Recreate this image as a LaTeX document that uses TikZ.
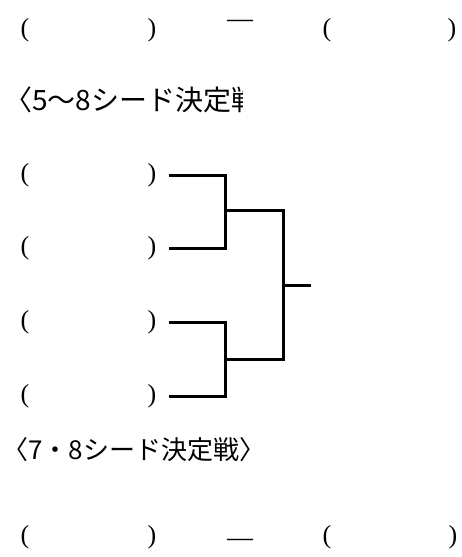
\documentclass[tikz,border=0pt]{standalone}
\usepackage{fontspec}
\newfontfamily\jp{Noto Sans CJK JP}
\newfontfamily\jpwide[FakeStretch=1.8]{Noto Sans CJK JP}
\newfontfamily\parenfont{Liberation Serif}
\newcommand\parensize{\fontsize{26}{30}\selectfont}
\begin{document}
\begin{tikzpicture}[x=1pt,y=-1pt,
  paren/.style={inner sep=0pt,font=\parenfont\parensize},
  dashtxt/.style={inner sep=0pt,font=\jpwide\fontsize{20}{24}\selectfont},
  heading/.style={inner sep=0pt,anchor=west,font=\jp\fontsize{26}{28}\selectfont},
  br/.style={line width=3pt,line join=miter,line cap=butt}]
\useasboundingbox (0,0) rectangle (461,557);
% top row
\node[paren] (t1l) at (25,30) {(};
\node[paren] (t1r) at (152,30) {)};
\node[dashtxt] (t1d) at (240,24) {－};
\node[paren] (t2l) at (327,30) {(};
\node[paren] (t2r) at (452,30) {)};
% heading 1 (clipped)
\begin{scope}
\clip (0,80) rectangle (242,125);
\node[heading,font=\jp\fontsize{28}{30}\selectfont] (h1) at (4,100) {〈5～8シード決定戦};
\end{scope}
% bracket entries
\foreach \i/\y in {1/175,2/248,3/322,4/396}{
  \node[paren] (e\i l) at (25,\y) {(};
  \node[paren] (e\i r) at (152,\y) {)};
}
\coordinate (j1) at (225,210);
\coordinate (j2) at (225,359);
\coordinate (f) at (283,285);
\coordinate (fe) at (311,285);
\draw[br] ([xshift=12pt]e1r.east) -| (j1) |- ([xshift=12pt]e2r.east);
\draw[br] ([xshift=12pt]e3r.east) -| (j2) |- ([xshift=12pt]e4r.east);
\draw[br] (j1) -| (f) |- (j2);
\draw[br] (f) -- (fe);
% heading 2
\node[heading] (h2) at (2,450) {〈7・8シード決定戦〉};
% bottom row
\node[paren] (b1l) at (25,537) {(};
\node[paren] (b1r) at (152,537) {)};
\node[dashtxt] (b1d) at (240,543) {－};
\node[paren] (b2l) at (327,537) {(};
\node[paren] (b2r) at (453,537) {)};
\end{tikzpicture}
\end{document}
